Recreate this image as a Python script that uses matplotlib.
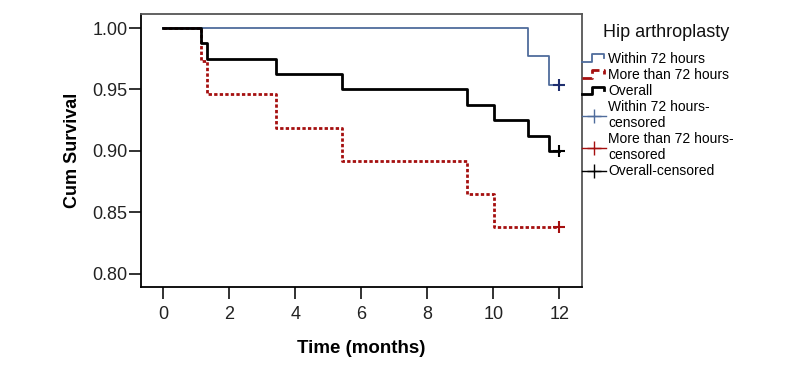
import numpy as np
import matplotlib.pyplot as plt
from matplotlib.lines import Line2D
from matplotlib.legend_handler import HandlerBase

plt.rcParams['font.family'] = ['Liberation Sans', 'DejaVu Sans']

# Kaplan-Meier steps
t_within = [0, 11.05, 11.7, 12]
s_within = [1.0, 0.977, 0.954, 0.954]

t_more = [0, 1.13, 1.33, 3.42, 5.42, 9.19, 10.02, 12]
s_more = [1.0, 0.973, 0.946, 0.919, 0.892, 0.865, 0.838, 0.838]

t_all = [0, 1.13, 1.33, 3.42, 5.42, 9.19, 10.02, 11.05, 11.7, 12]
s_all = [1.0, 0.9875, 0.975, 0.9625, 0.95, 0.9375, 0.925, 0.9125, 0.90, 0.90]

x_ticks = [0, 2, 4, 6, 8, 10, 12]
y_ticks = [0.80, 0.85, 0.90, 0.95, 1.00]

labels = ['Within 72 hours', 'More than 72 hours', 'Overall',
          'Within 72 hours-\ncensored', 'More than 72 hours-\ncensored',
          'Overall-censored']

c_blue = '#4f6c9c'
c_red = '#a50f0f'
c_black = 'black'
red_ls = (0, (1.2, 0.8))


class StepHandler(HandlerBase):
    # little step drawing used by the legend, like the SPSS one
    def create_artists(self, legend, orig_handle, xdescent, ydescent,
                       width, height, fontsize, trans):
        x0 = -xdescent
        y0 = -ydescent
        xs = [x0, x0 + 0.4 * width, x0 + 0.4 * width, x0 + 0.92 * width, x0 + 0.92 * width]
        ys = [y0 + 0.1 * height, y0 + 0.1 * height, y0 + 0.85 * height,
              y0 + 0.85 * height, y0 + 0.45 * height]
        ln = Line2D(xs, ys, color=orig_handle.get_color(),
                    linewidth=orig_handle.get_linewidth(),
                    linestyle=orig_handle.get_linestyle(), transform=trans)
        return [ln]


fig = plt.figure(figsize=(8.02, 3.70), dpi=100)
ax = fig.add_axes([0.1758, 0.2243, 0.5499, 0.9622 - 0.2243])

ax.step(t_within, s_within, where='post', color=c_blue, lw=1.3)
ax.step(t_more, s_more, where='post', color=c_red, lw=2.0, linestyle=red_ls)
ax.step(t_all, s_all, where='post', color=c_black, lw=2.0)

ax.plot(t_within[-1], s_within[-1], marker='+', color='#1f2f6f', ms=9, mew=1.5, ls='none')
ax.plot(t_more[-1], s_more[-1], marker='+', color=c_red, ms=9, mew=1.5, ls='none')
ax.plot(t_all[-1], s_all[-1], marker='+', color=c_black, ms=9, mew=1.5, ls='none')

ax.set_xlim(-0.676, 12.69)
ax.set_ylim(0.7894, 1.0114)
ax.set_xticks(x_ticks)
ax.set_yticks(y_ticks)
ax.set_yticklabels(['%.2f' % v for v in y_ticks])
ax.tick_params(direction='out', length=8.6, width=1.3, labelsize=13, colors='#222222')
ax.tick_params(axis='y', pad=1)
ax.tick_params(axis='x', pad=5)
for sp in ax.spines.values():
    sp.set_linewidth(1.3)
ax.spines['right'].set_color('#555555')
ax.spines['top'].set_color('#555555')

ax.set_xlabel('Time (months)', fontsize=13.5, fontweight='bold', labelpad=12)
ax.set_ylabel('Cum Survival', fontsize=13, fontweight='bold', labelpad=8)

h1 = Line2D([], [], color=c_blue, lw=1.3)
h2 = Line2D([], [], color=c_red, lw=2.0, linestyle=red_ls)
h3 = Line2D([], [], color=c_black, lw=2.0)
h4 = Line2D([], [], color=c_blue, lw=1.0, marker='+', ms=10, mew=1.0)
h5 = Line2D([], [], color=c_red, lw=1.0, marker='+', ms=10, mew=1.0)
h6 = Line2D([], [], color=c_black, lw=1.0, marker='+', ms=10, mew=1.0)

leg = ax.legend([h1, h2, h3, h4, h5, h6], labels,
                handler_map={h1: StepHandler(), h2: StepHandler(), h3: StepHandler()},
                loc='upper left', bbox_to_anchor=(1.0, 0.862), frameon=False,
                fontsize=10, handlelength=1.75, handletextpad=0.15, labelspacing=0.15,
                borderaxespad=0.0, borderpad=0.0, numpoints=1)

ax.text(1.19, 0.934, 'Hip arthroplasty', transform=ax.transAxes,
        ha='center', va='center', fontsize=13, color='#111111')

fig.savefig('out.png', dpi=100)
